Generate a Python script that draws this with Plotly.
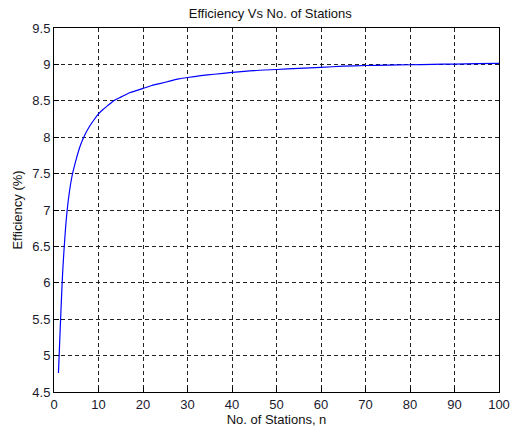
import plotly.graph_objects as go

# Data
stations = [1, 2, 3, 4, 5, 6, 7, 8, 9, 10, 11, 12, 13, 14, 15, 16, 17, 18, 19, 20,
            22, 24, 26, 28, 30, 33, 36, 40, 45, 50, 55, 60, 65, 70, 75, 80, 85, 90, 95, 100]
efficiency = [4.76, 6.2, 7.02, 7.45, 7.7, 7.9, 8.04, 8.15, 8.24, 8.32, 8.38, 8.43, 8.48,
              8.52, 8.55, 8.58, 8.61, 8.63, 8.65, 8.67, 8.71, 8.74, 8.77, 8.80, 8.82,
              8.845, 8.865, 8.89, 8.915, 8.93, 8.945, 8.96, 8.975, 8.985, 8.99, 8.995,
              9.0, 9.005, 9.01, 9.015]

x_ticks = list(range(0, 101, 10))
y_ticks = [4.5, 5, 5.5, 6, 6.5, 7, 7.5, 8, 8.5, 9, 9.5]

font_family = "Liberation Sans, Arial, sans-serif"

fig = go.Figure()
fig.add_trace(go.Scatter(
    x=stations, y=efficiency, mode="lines", line_shape="spline",
    line=dict(color="#0000FF", width=1.2, smoothing=0.6),
    showlegend=False,
))

axis_common = dict(
    showline=True, linecolor="black", linewidth=1, mirror=True,
    ticks="inside", ticklen=5, tickcolor="black",
    showgrid=True, gridcolor="#222222", gridwidth=1, griddash="4px,3px",
    zeroline=False, automargin=False,
    tickfont=dict(family=font_family, size=13, color="#1a1a2e"),
)

fig.update_xaxes(
    range=[0, 100], tickvals=x_ticks,
    title=dict(text="No. of Stations, n", font=dict(family=font_family, size=13, color="#111"), standoff=3),
    **axis_common,
)
fig.update_yaxes(
    range=[4.5, 9.5], tickvals=y_ticks,
    title=dict(text="Efficiency (%)", font=dict(family=font_family, size=13, color="#111"), standoff=6),
    **axis_common,
)

fig.update_layout(
    width=510, height=434,
    margin=dict(l=54, r=11, t=28, b=42, autoexpand=False),
    paper_bgcolor="white", plot_bgcolor="white",
    title=dict(text="Efficiency Vs No. of Stations", x=0.53, xanchor="center",
               y=1 - 13 / 434, yanchor="middle",
               font=dict(family=font_family, size=13, color="#111")),
)

fig.write_html("out.html")
